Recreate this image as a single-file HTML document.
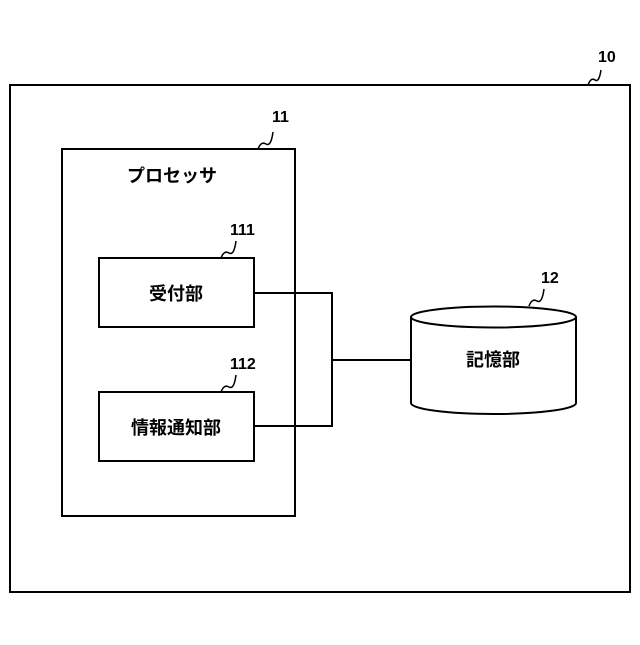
<!DOCTYPE html>
<html><head><meta charset="utf-8"><style>body{margin:0;background:#fff}</style></head><body>
<svg width="640" height="640" viewBox="0 0 640 640" xmlns="http://www.w3.org/2000/svg" font-family="'Liberation Sans','Noto Sans CJK JP',sans-serif" font-weight="bold">
<g fill="none" stroke="#000" stroke-width="2">
<rect x="10" y="85" width="620" height="507"/>
<rect x="62" y="149" width="233" height="367"/>
<rect x="99" y="258" width="155" height="69"/>
<rect x="99" y="392" width="155" height="69"/>
<polyline points="254,293 332,293 332,426 254,426"/>
<line x1="332" y1="360" x2="411" y2="360"/>
<path d="M411,317 L411,403 A82.5,11 0 0 0 576,403 L576,317"/>
<ellipse cx="493.5" cy="317" rx="82.5" ry="10.5" fill="#fff"/>
<path stroke-width="1.5" d="M588,85 q3,-8 7,-5 t6,-10"/>
<path stroke-width="1.5" d="M258,149 q3,-8 8,-5 t7,-12"/>
<path stroke-width="1.5" d="M221,258 q3,-8 8,-5 t7,-12"/>
<path stroke-width="1.5" d="M221,392 q3,-8 8,-5 t7,-12"/>
<path stroke-width="1.5" d="M529,306 q3,-8 8,-5 t7,-12"/>
</g>
<g font-size="16" fill="#000">
<text x="598" y="62">10</text>
<text x="272" y="122">11</text>
<text x="230" y="235">111</text>
<text x="230" y="369">112</text>
<text x="541" y="283">12</text>
<text x="172" y="182" font-size="18" text-anchor="middle">プロセッサ</text>
<text x="176" y="300" font-size="18" text-anchor="middle">受付部</text>
<text x="176" y="434" font-size="18" text-anchor="middle">情報通知部</text>
<text x="493" y="366" font-size="18" text-anchor="middle">記憶部</text>
</g>
</svg>
</body></html>
